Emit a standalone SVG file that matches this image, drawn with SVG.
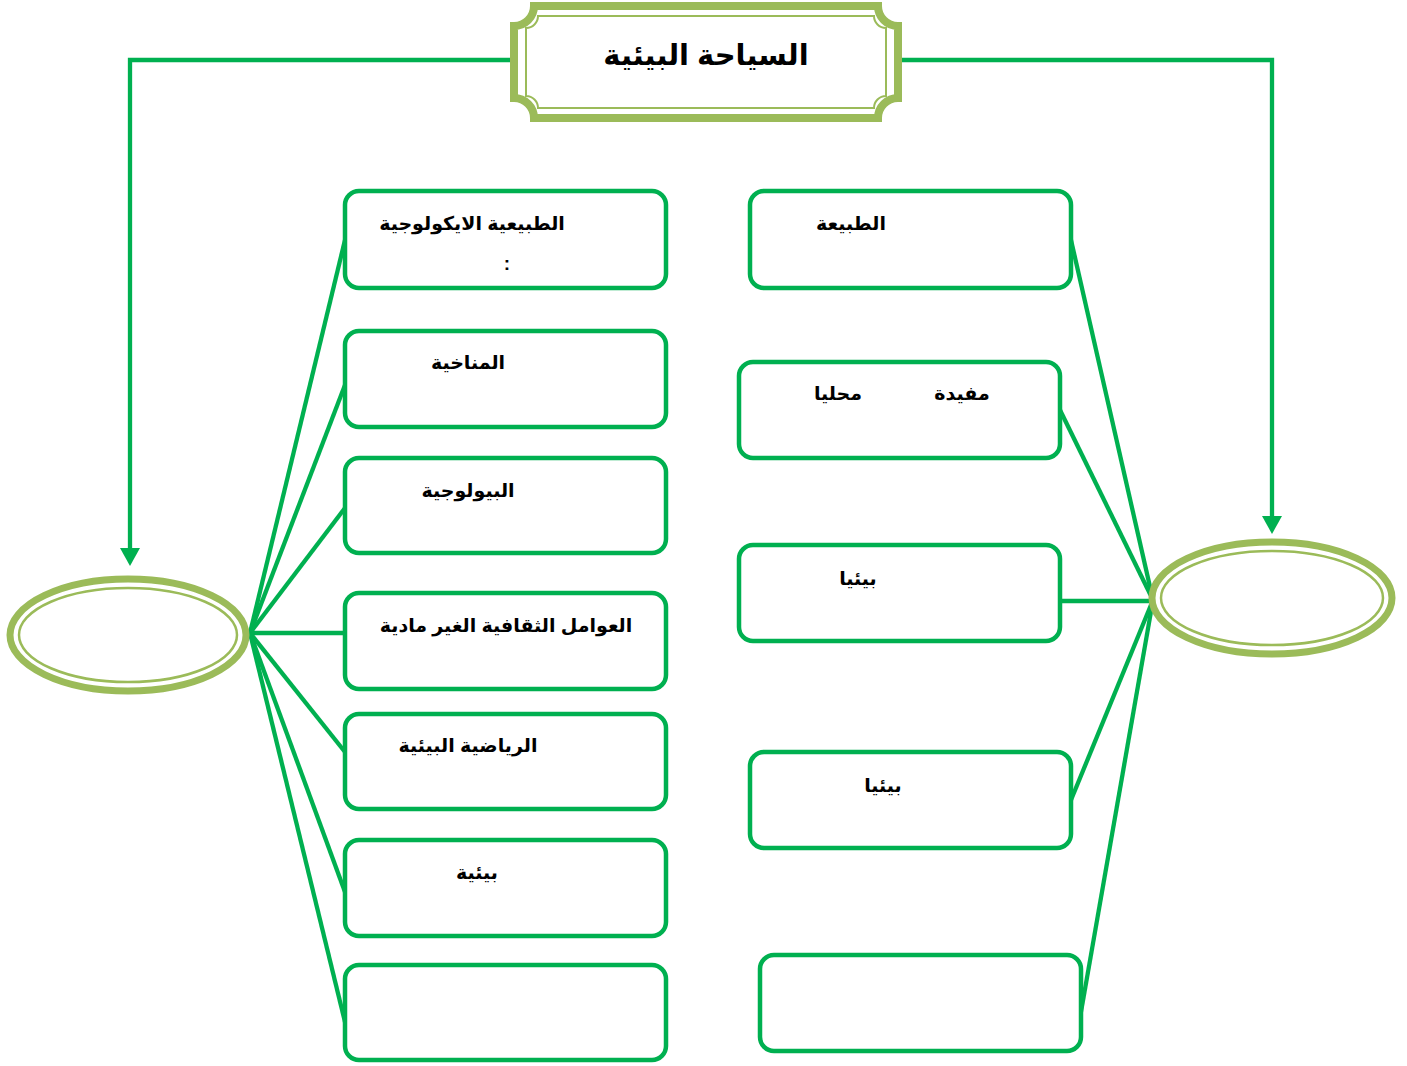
<svg xmlns="http://www.w3.org/2000/svg" width="1407" height="1066" viewBox="0 0 1407 1066">
<defs>
<style>
.box{fill:#fff;stroke:#00B050;stroke-width:4.5}
.ln{fill:none;stroke:#00B050;stroke-width:4.3}
.ring{fill:#fff;stroke:#9BBB59;stroke-width:7}
.ring2{fill:none;stroke:#9BBB59;stroke-width:2.5}
.t{font-family:"Liberation Sans","DejaVu Sans",Arial,sans-serif;font-weight:bold;font-size:19px;fill:#000;direction:rtl}
.title{font-family:"Liberation Sans","DejaVu Sans",Arial,sans-serif;font-weight:bold;font-size:29px;fill:#000;direction:rtl}
</style>
</defs>
<rect width="1407" height="1066" fill="#fff"/>
<g id="connectors">
<path class="ln" d="M514,60 H130 V555"/>
<path d="M120,548 L140,548 L130,566 Z" fill="#00B050"/>
<path class="ln" d="M898,60 H1272 V523"/>
<path d="M1262,516 L1282,516 L1272,534 Z" fill="#00B050"/>
<line class="ln" x1="250" y1="633" x2="345" y2="240"/>
<line class="ln" x1="250" y1="633" x2="345" y2="385"/>
<line class="ln" x1="250" y1="633" x2="345" y2="508"/>
<line class="ln" x1="250" y1="633" x2="345" y2="633"/>
<line class="ln" x1="250" y1="633" x2="345" y2="752"/>
<line class="ln" x1="250" y1="633" x2="345" y2="892"/>
<line class="ln" x1="250" y1="633" x2="345" y2="1022"/>
<line class="ln" x1="1153" y1="600" x2="1071" y2="240"/>
<line class="ln" x1="1153" y1="600" x2="1060" y2="410"/>
<line class="ln" x1="1153" y1="601" x2="1060" y2="601"/>
<line class="ln" x1="1153" y1="600" x2="1071" y2="800"/>
<line class="ln" x1="1153" y1="600" x2="1081" y2="1012"/>
</g>
<g id="title">
<path d="M534,6 H878 A20,20 0 0 0 898,26 V98 A20,20 0 0 0 878,118 H534 A20,20 0 0 0 514,98 V26 A20,20 0 0 0 534,6 Z" fill="#fff" stroke="#9BBB59" stroke-width="8"/>
<path d="M538,16 H874 A12,12 0 0 0 886,28 V96 A12,12 0 0 0 874,108 H538 A12,12 0 0 0 526,96 V28 A12,12 0 0 0 538,16 Z" fill="none" stroke="#9BBB59" stroke-width="2"/>
<text class="title" x="706" y="65" text-anchor="middle">السياحة البيئية</text>
</g>
<g id="ellipse-left">
<ellipse class="ring" cx="128" cy="635" rx="118" ry="56"/>
<ellipse class="ring2" cx="128" cy="635" rx="109" ry="47"/>
</g>
<g id="ellipse-right">
<ellipse class="ring" cx="1272" cy="598" rx="120" ry="56"/>
<ellipse class="ring2" cx="1272" cy="598" rx="111" ry="47"/>
</g>
<g id="L1"><rect class="box" x="345" y="191" width="321" height="97" rx="14"/>
<text class="t" x="472" y="230" text-anchor="middle">الطبيعية الايكولوجية</text>
<text class="t" x="507" y="270" text-anchor="middle">:</text></g>
<g id="L2"><rect class="box" x="345" y="331" width="321" height="96" rx="14"/>
<text class="t" x="468" y="369" text-anchor="middle">المناخية</text></g>
<g id="L3"><rect class="box" x="345" y="458" width="321" height="95" rx="14"/>
<text class="t" x="468" y="497" text-anchor="middle">البيولوجية</text></g>
<g id="L4"><rect class="box" x="345" y="593" width="321" height="96" rx="14"/>
<text class="t" x="506" y="632" text-anchor="middle">العوامل الثقافية الغير مادية</text></g>
<g id="L5"><rect class="box" x="345" y="714" width="321" height="95" rx="14"/>
<text class="t" x="468" y="752" text-anchor="middle">الرياضية البيئية</text></g>
<g id="L6"><rect class="box" x="345" y="840" width="321" height="96" rx="14"/>
<text class="t" x="477" y="879" text-anchor="middle">بيئية</text></g>
<g id="L7"><rect class="box" x="345" y="965" width="321" height="95" rx="14"/></g>
<g id="R1"><rect class="box" x="750" y="191" width="321" height="97" rx="14"/>
<text class="t" x="851" y="230" text-anchor="middle">الطبيعة</text></g>
<g id="R2"><rect class="box" x="739" y="362" width="321" height="96" rx="14"/>
<text class="t" x="962" y="400" text-anchor="middle">مفيدة</text>
<text class="t" x="838" y="400" text-anchor="middle">محليا</text></g>
<g id="R3"><rect class="box" x="739" y="545" width="321" height="96" rx="14"/>
<text class="t" x="858" y="585" text-anchor="middle">بيئيا</text></g>
<g id="R4"><rect class="box" x="750" y="752" width="321" height="96" rx="14"/>
<text class="t" x="883" y="792" text-anchor="middle">بيئيا</text></g>
<g id="R5"><rect class="box" x="760" y="955" width="321" height="96" rx="14"/></g>
</svg>
